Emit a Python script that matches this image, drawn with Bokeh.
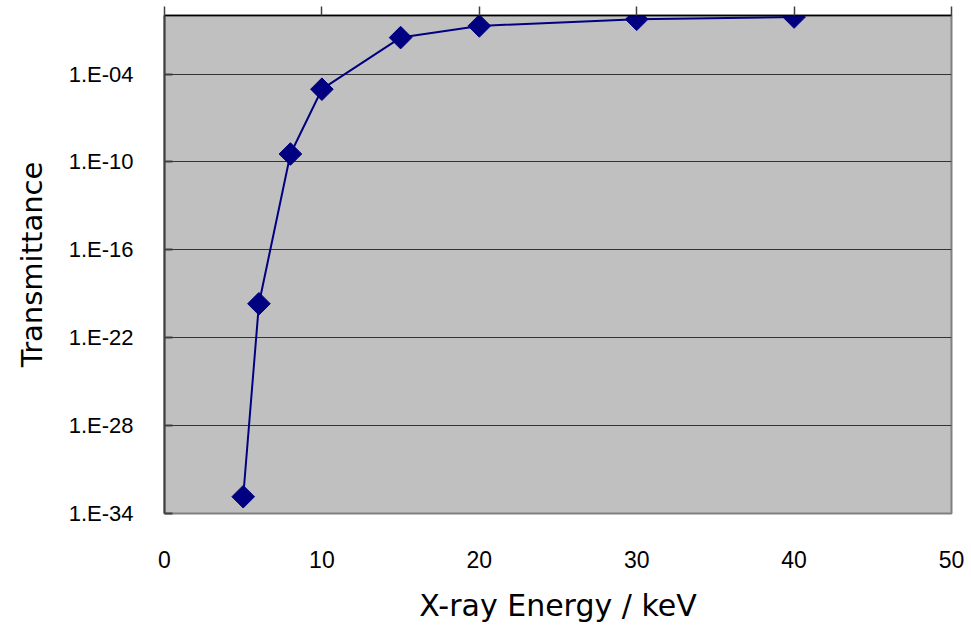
import numpy as np
from bokeh.plotting import figure
from bokeh.models import (FixedTicker, LinearAxis, CustomJSTickFormatter, Range1d)
from bokeh.embed import file_html
from bokeh.resources import INLINE

# ---- data ----
energy_kev = [5, 6, 8, 10, 15, 20, 30, 40]
transmittance = [1.4e-33, 2.1e-20, 3.5e-10, 9.3e-6, 3.1e-2, 1.95e-1, 5.5e-1, 7.9e-1]

x_ticks = [0, 10, 20, 30, 40, 50]
y_tick_exponents = [-34, -28, -22, -16, -10, -4]
y_tick_labels = ["1.E-34", "1.E-28", "1.E-22", "1.E-16", "1.E-10", "1.E-04"]

x_title = "X-ray Energy / keV"
y_title = "Transmittance"

NAVY = "#000080"

p = figure(width=971, height=626, y_axis_type="log",
           x_range=Range1d(0, 50), y_range=Range1d(1e-34, 1e0),
           output_backend="svg", toolbar_location=None,
           min_border_left=164, min_border_right=20,
           min_border_top=15, min_border_bottom=113)

p.background_fill_color = "#C0C0C0"
p.border_fill_color = "white"
p.outline_line_color = "#808080"
p.outline_line_width = 2

# grid
p.xgrid.grid_line_color = None
p.ygrid.grid_line_color = "#333333"
p.ygrid.grid_line_width = 1.2
p.ygrid.ticker = FixedTicker(ticks=[10.0 ** e for e in y_tick_exponents])

# y axis
ya = p.yaxis[0]
ya.ticker = FixedTicker(ticks=[10.0 ** e for e in y_tick_exponents], minor_ticks=[])
ya.formatter = CustomJSTickFormatter(
    args=dict(exps=y_tick_exponents, labels=y_tick_labels),
    code="""
    const e = Math.round(Math.log10(tick));
    const i = exps.indexOf(e);
    return i >= 0 ? labels[i] : "";
    """)
ya.axis_line_color = "#404040"
ya.axis_line_width = 2
ya.major_tick_in = 8
ya.major_tick_out = 0
ya.major_tick_line_color = "#404040"
ya.major_tick_line_width = 2
ya.minor_tick_line_color = None
ya.major_label_text_font = "Liberation Sans"
ya.major_label_text_font_size = "22px"
ya.major_label_text_color = "black"
ya.major_label_standoff = 31
ya.axis_label = y_title
ya.axis_label_text_font = "DejaVu Sans"
ya.axis_label_text_font_size = "29px"
ya.axis_label_text_font_style = "normal"
ya.axis_label_text_color = "black"
ya.axis_label_standoff = 17

# x axis (bottom: labels only)
xa = p.xaxis[0]
xa.ticker = FixedTicker(ticks=x_ticks, minor_ticks=[])
xa.axis_line_color = None
xa.major_tick_line_color = None
xa.minor_tick_line_color = None
xa.major_label_text_font = "Liberation Sans"
xa.major_label_text_font_size = "23px"
xa.major_label_text_color = "black"
xa.major_label_standoff = 31
xa.axis_label = x_title
xa.axis_label_text_font = "DejaVu Sans"
xa.axis_label_text_font_size = "30px"
xa.axis_label_text_font_style = "normal"
xa.axis_label_text_color = "black"
xa.axis_label_standoff = 17

# top axis line with upward ticks (as in the reference); no labels drawn
top = LinearAxis(ticker=FixedTicker(ticks=x_ticks, minor_ticks=[]),
                 major_label_text_font_size="1px", major_label_text_color=None,
                 major_label_standoff=0,
                 major_tick_out=9, major_tick_in=0,
                 major_tick_line_color="#404040", major_tick_line_width=1.5,
                 minor_tick_line_color=None,
                 axis_line_color="black", axis_line_width=1.5)
p.add_layout(top, "above")

# series
p.line(energy_kev, transmittance, line_color=NAVY, line_width=2)
p.scatter(energy_kev, transmittance, marker="square", size=16, angle=np.pi / 4,
          fill_color=NAVY, line_color=NAVY)

open("out.html", "w").write(file_html(p, INLINE))
